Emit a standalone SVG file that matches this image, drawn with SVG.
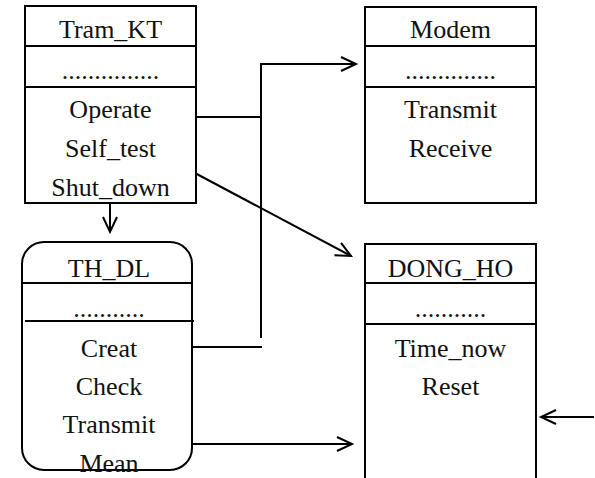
<svg xmlns="http://www.w3.org/2000/svg" width="595" height="478" viewBox="0 0 595 478">
<style>
.box{fill:#fff;stroke:#000;stroke-width:2}
.ln{stroke:#000;stroke-width:2;fill:none}
.t{font-family:"Liberation Serif","Times New Roman",serif;font-size:26px;fill:#111;text-anchor:middle}
</style>
<defs>
<marker id="ah" markerUnits="userSpaceOnUse" markerWidth="20" markerHeight="20" refX="16" refY="8" orient="auto" viewBox="0 0 20 16">
<path d="M1,1 L16,8 L1,15" fill="none" stroke="#000" stroke-width="2"/>
</marker>
</defs>
<rect width="595" height="478" fill="#fff"/>
<g id="connectors">
<polyline class="ln" points="192,117 261,117"/>
<polyline class="ln" points="261,338 261,64 356,64" marker-end="url(#ah)"/>
<polyline class="ln" points="192,347 262,347"/>
<line class="ln" x1="193" y1="172" x2="351" y2="256" marker-end="url(#ah)"/>
<line class="ln" x1="110" y1="204" x2="110" y2="232" marker-end="url(#ah)"/>
<line class="ln" x1="192" y1="444" x2="352" y2="444" marker-end="url(#ah)"/>
<line class="ln" x1="594" y1="417" x2="541" y2="417" marker-end="url(#ah)"/>
</g>
<g id="Tram_KT">
<rect class="box" x="25" y="6" width="171" height="197"/>
<line class="ln" x1="25" y1="46" x2="196" y2="46"/>
<line class="ln" x1="25" y1="87" x2="196" y2="87"/>
<text class="t" x="110.5" y="38">Tram_KT</text>
<text class="t" x="110.5" y="79">...............</text>
<text class="t" x="110.5" y="118">Operate</text>
<text class="t" x="110.5" y="157">Self_test</text>
<text class="t" x="110.5" y="196">Shut_down</text>
</g>
<g id="Modem">
<rect class="box" x="365" y="7" width="171" height="196"/>
<line class="ln" x1="365" y1="46" x2="536" y2="46"/>
<line class="ln" x1="365" y1="87" x2="536" y2="87"/>
<text class="t" x="450.5" y="38">Modem</text>
<text class="t" x="450.5" y="79">..............</text>
<text class="t" x="450.5" y="118">Transmit</text>
<text class="t" x="450.5" y="157">Receive</text>
</g>
<g id="TH_DL">
<rect class="box" x="22" y="242" width="170" height="228" rx="22" ry="22"/>
<line class="ln" x1="23" y1="283" x2="192" y2="283"/>
<line class="ln" x1="25" y1="321" x2="194" y2="321"/>
<text class="t" x="109" y="277">TH_DL</text>
<text class="t" x="109" y="317">...........</text>
<text class="t" x="109" y="357">Creat</text>
<text class="t" x="109" y="395">Check</text>
<text class="t" x="109" y="433">Transmit</text>
<text class="t" x="109" y="472">Mean</text>
</g>
<g id="DONG_HO">
<polyline class="ln" points="365,479 365,244 536,244 536,479"/>
<line class="ln" x1="365" y1="283" x2="536" y2="283"/>
<line class="ln" x1="365" y1="324" x2="536" y2="324"/>
<text class="t" x="450.5" y="277">DONG_HO</text>
<text class="t" x="450.5" y="317">...........</text>
<text class="t" x="450.5" y="357">Time_now</text>
<text class="t" x="450.5" y="395">Reset</text>
</g>
</svg>
